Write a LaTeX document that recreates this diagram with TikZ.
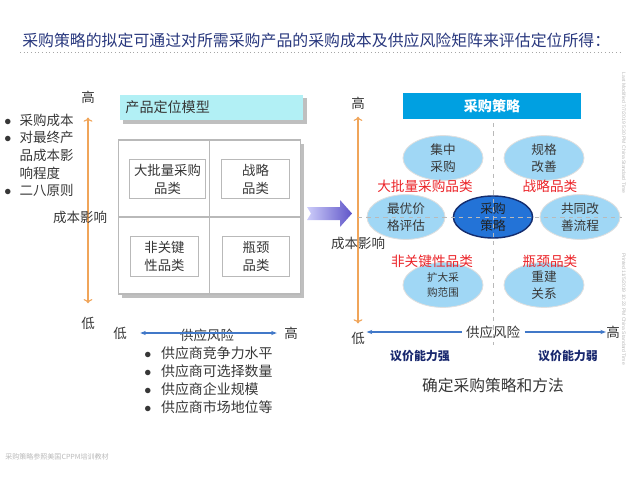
\documentclass[tikz,border=0pt]{standalone}
\usepackage{fontspec}
\setmainfont{Noto Sans CJK SC}
\newfontfamily\latinsans{Liberation Sans}
\usetikzlibrary{arrows.meta, positioning, shapes.geometric, shadows}

\definecolor{titleblue}{RGB}{40,55,125}
\definecolor{txtgray}{RGB}{55,55,55}
\definecolor{axisorange}{RGB}{240,165,90}
\definecolor{axisblue}{RGB}{65,120,200}
\definecolor{headcyan}{RGB}{178,240,245}
\definecolor{headblue}{RGB}{0,160,225}
\definecolor{ellblue}{RGB}{160,215,245}
\definecolor{corefill}{RGB}{35,115,215}
\definecolor{corerim}{RGB}{20,45,110}
\definecolor{redlbl}{RGB}{235,35,40}
\definecolor{navy}{RGB}{25,40,110}
\definecolor{pushlight}{RGB}{205,205,250}
\definecolor{pushdark}{RGB}{95,85,200}

\begin{document}
\begin{tikzpicture}[
  x=0.025cm, y=-0.025cm,
  txt/.style={font=\fontsize{9.6}{12.5}\selectfont, text=txtgray, inner sep=0pt},
  cell/.style={draw=gray!55, line width=0.8pt, fill=white, minimum width=#1, minimum height=0.95cm,
    align=center, font=\fontsize{9.5}{12.8}\selectfont, text=txtgray},
  cell/.default=1.68cm,
  shade box/.style={drop shadow={shadow xshift=0.09cm, shadow yshift=-0.09cm, fill=gray!50, opacity=1}},
  bubble/.style={ellipse, fill=ellblue, draw=gray!25, line width=0.6pt, minimum width=2cm, minimum height=1.12cm,
    inner sep=0pt, align=center, font=\fontsize{9}{12.5}\selectfont, text=txtgray},
  cat/.style={text=redlbl, font=\fontsize{9.7}{12}\selectfont, inner sep=0pt},
  power/.style={text=navy, font=\fontsize{8.5}{10}\selectfont\bfseries, inner sep=0pt},
  costaxis/.style={draw=axisorange, line width=0.8pt, {To[length=3pt]}-{To[length=3pt]}},
  riskaxis/.style={draw=axisblue, line width=0.8pt, -{Stealth[length=4pt]}},
  grid line/.style={draw=gray!55, dashed, line width=0.5pt},
  stamp/.style={text=gray!55, font=\fontsize{3.6}{4}\latinsans, rotate=-90, inner sep=0pt},
]
  \useasboundingbox (0,0) rectangle (640,480);

  % title
  \node[anchor=west, text=titleblue, font=\fontsize{11.3}{13}\selectfont, inner sep=0pt] (title) at (22,40)
    {采购策略的拟定可通过对所需采购产品的采购成本及供应风险矩阵来评估定位所得：};
  \draw[gray!70, dotted, line width=0.6pt] (20,52) -- (620,52);

  % left: product positioning
  \node[txt] (highL) at (88,97) {高};
  \node[txt] (lowL) at (88,323) {低};
  \draw[costaxis, shorten <=0.33cm, shorten >=0.35cm] (lowL) -- (highL);
  \node[txt] (costL) at (80,217) {成本影响};
  \node[txt, anchor=west] (costlist) at (4,157) {%
    \begin{tabular}{@{}l@{\hspace{6pt}}l@{}}
      $\bullet$ & 采购成本\\
      $\bullet$ & 对最终产\\
                & 品成本影\\
                & 响程度\\
      $\bullet$ & 二八原则
    \end{tabular}};

  \node[shade box, fill=headcyan, minimum width=4.58cm, minimum height=0.63cm, text width=4.3cm, align=left,
    font=\fontsize{10}{12}\selectfont, text=txtgray] (modelhead) at (211.5,107.5) {产品定位模型};
  \node[shade box, draw=gray!55, line width=0.8pt, fill=white, minimum width=4.53cm, minimum height=3.85cm] (grid) at (209.5,217) {};
  \draw[gray!55, line width=0.8pt] (grid.north) -- (grid.south);
  \draw[gray!55, line width=0.8pt] (grid.west) -- (grid.east);

  \node[cell=1.88cm] (bulk) at (167.5,179) {大批量采购\\品类};
  \node[cell] (strat) at (255.5,179) {战略\\品类};
  \node[cell] (noncrit) at (164.5,256.5) {非关键\\性品类};
  \node[cell] (bottle) at (256,256.5) {瓶颈\\品类};

  \node[txt] (lowB) at (120,333) {低};
  \node[txt] (highB) at (291,333) {高};
  \node[txt] (riskB) at (207,335) {供应风险};
  \draw[riskaxis, {Stealth[length=4pt]}-{Stealth[length=4pt]}, shorten <=0.33cm, shorten >=0.18cm] (lowB) -- (highB);
  \node[txt, font=\fontsize{9.9}{12.8}\selectfont, anchor=west] (supplylist) at (144,382) {%
    \begin{tabular}{@{}l@{\hspace{7pt}}l@{}}
      $\bullet$ & 供应商竞争力水平\\
      $\bullet$ & 供应商可选择数量\\
      $\bullet$ & 供应商企业规模\\
      $\bullet$ & 供应商市场地位等
    \end{tabular}};

  % transition arrow
  \shade[left color=pushlight, right color=pushdark]
    (307,207) -- (340,207) -- (340,200) -- (352,213.5) -- (340,227) -- (340,220) -- (307,220) -- (311,213.5) -- cycle;

  % right: purchasing strategy
  \node[txt] (highR) at (358,103) {高};
  \node[txt] (lowR) at (358,338) {低};
  \draw[costaxis, shorten <=0.2cm, shorten >=0.18cm] (lowR) -- (highR);
  \node[txt] (costR) at (358,243) {成本影响};

  \node[fill=headblue, minimum width=4.45cm, minimum height=0.65cm, text=white,
    font=\fontsize{10}{12}\selectfont\bfseries] (stratHead) at (492,106) {采购策略};

  \node[bubble] (pool) at (443,158) {集中\\采购};
  \node[bubble] (spec) at (544,158) {规格\\改善};
  \node[bubble, minimum width=1.95cm] (price) at (406,217) {最优价\\格评估};
  \node[bubble] (process) at (580,217) {共同改\\善流程};
  \node[bubble, font=\fontsize{7.5}{11}\selectfont] (scope) at (443,285) {扩大采\\购范围};
  \node[bubble] (relation) at (544,285) {重建\\关系};
  \node[ellipse, fill=corefill, draw=corerim, line width=1pt, minimum width=1.98cm, minimum height=1.05cm,
    inner sep=0pt, align=center, font=\fontsize{9}{12.5}\selectfont, text=txtgray!60!black] (core) at (493,217) {采购\\策略};

  \node[cat] (bulkR) at (425,186) {大批量采购品类};
  \node[cat] (stratR) at (550,186) {战略品类};
  \node[cat] (noncritR) at (432,261) {非关键性品类};
  \node[cat] (bottleR) at (550,261) {瓶颈品类};

  \coordinate (vtop) at (493,123);
  \coordinate (vbot) at (493,345);
  \coordinate (hend) at (622,217);
  \draw[grid line] (vtop) -- (vbot);
  \draw[grid line] (highR |- core) -- (hend);

  \node[txt, inner sep=3pt] (riskR) at (493,332) {供应风险};
  \node[txt] (highR2) at (613,332) {高};
  \draw[riskaxis, shorten >=0.04cm] (riskR.west) -- (riskR.west -| lowR.east);
  \draw[riskaxis] (riskR.east) -- (highR2.west);

  \node[power] (strong) at (420,356) {议价能力强};
  \node[power] (weak) at (568,356) {议价能力弱};
  \node[txt, font=\fontsize{11.2}{13}\selectfont] (method) at (493,385) {确定采购策略和方法};

  % footer and print stamps
  \node[anchor=west, text=gray!55, font=\fontsize{5}{6}\selectfont, inner sep=0pt] (footer) at (5,457) {采购策略参照美国CPPM培训教材};
  \node[stamp] (modified) at (624,133) {Last Modified 7/7/2019 5:30 PM China Standard Time};
  \node[stamp] (printed) at (624,309) {Printed 11/5/2019 10:23 PM China Standard Time};
\end{tikzpicture}
\end{document}
